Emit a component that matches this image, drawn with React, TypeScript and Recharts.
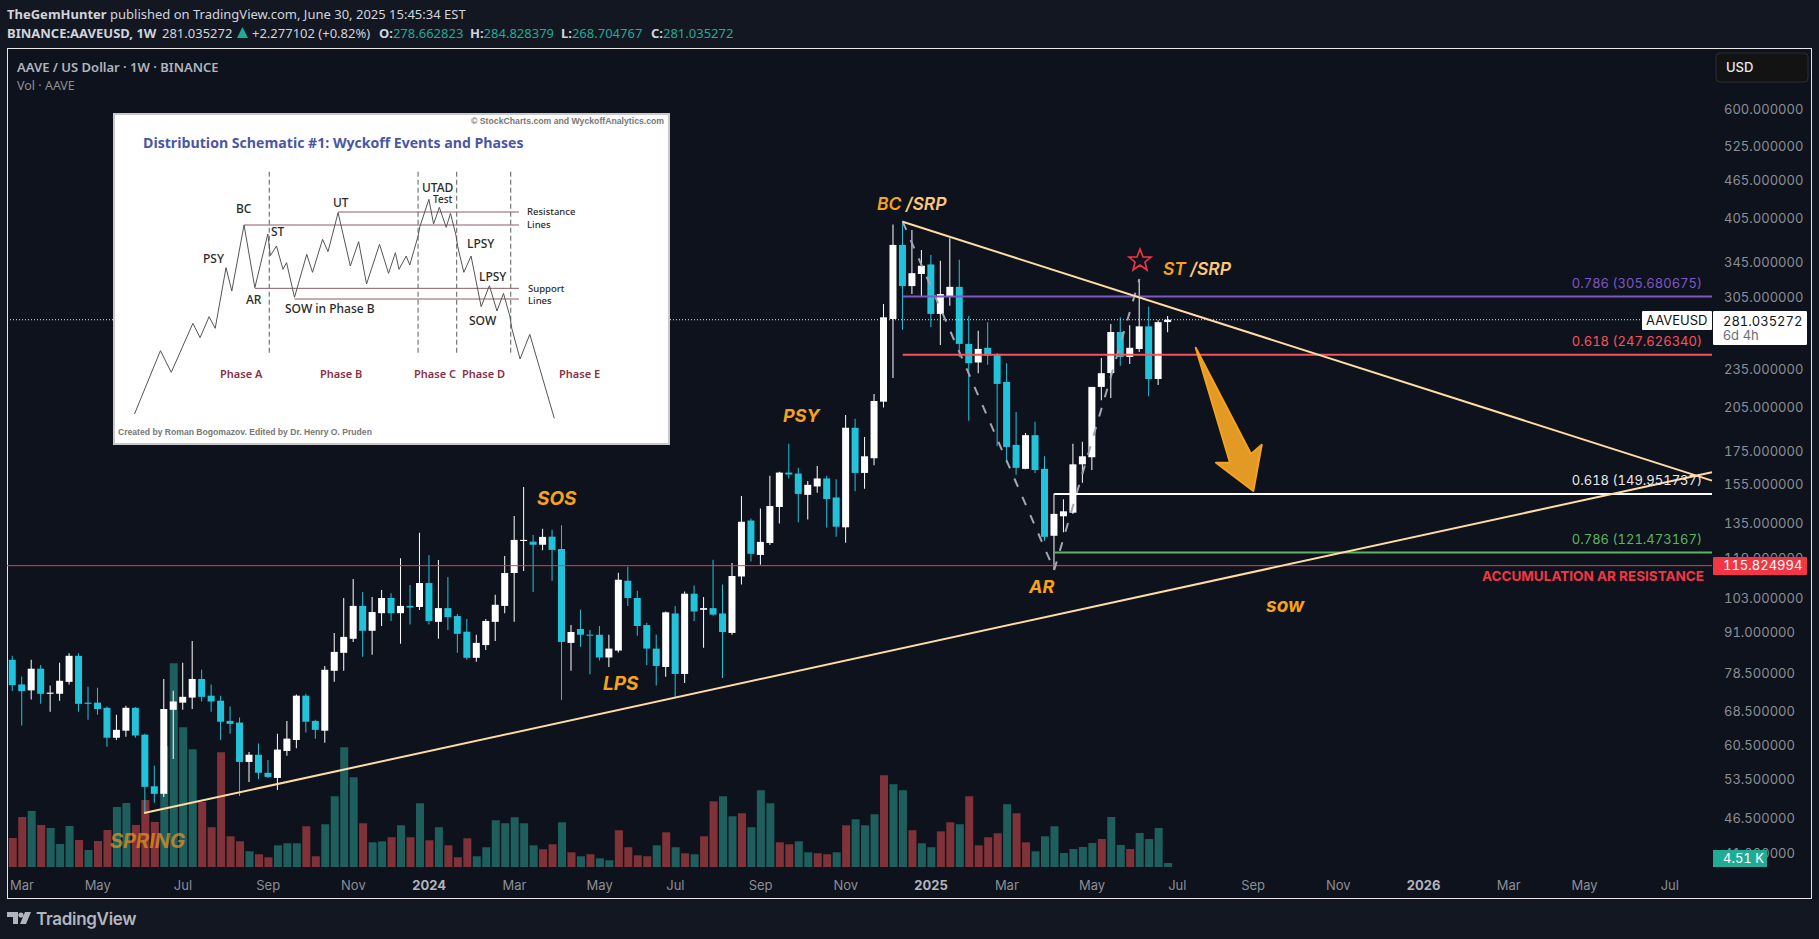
import { Bar, Cell, ComposedChart, Line, LineChart, ReferenceLine, XAxis, YAxis } from 'recharts'

// weekly AAVE candles
const opens = [
  82.5, 75.5, 73.9, 79.9, 73, 73, 76.2, 83.7, 70.7, 70.7,
  69.4, 62.3, 63.9, 69.4, 63, 52.3, 50.9, 68.9, 70.7, 72,
  77, 72.5, 71.2, 66.2, 65.8, 57.1, 58.6, 54.9, 53.9, 59.4,
  61.8, 72.5, 66.2, 63.9, 79.3, 84.6, 89, 100.2, 91.6, 97.6,
  103.1, 97.6, 100.2, 99.8, 108.8, 94.6, 99.4, 96.6, 91.3, 83.1,
  87, 94.6, 100.2, 112.8, 126.6, 126.3, 124.9, 128.6, 123, 87.7,
  92.2, 90.3, 90.3, 83.2, 85.3, 109.7, 103.1, 93.5, 85.9, 80.4,
  97.5, 78.4, 104.7, 98.8, 99.4, 97.5, 90.9, 111.4, 136.3, 120.4,
  125.7, 143.1, 162, 161.4, 149.5, 154.1, 158.6, 148.1, 133, 190.4,
  161.8, 170.6, 209.2, 281.8, 368, 317.3, 331.4, 343, 287, 305.3,
  316.4, 257.6, 240.9, 254, 248.3, 224.6, 179, 164.2, 185.4, 164.2,
  129, 138.4, 140.2, 166.9, 171.2, 220.6, 231.9, 268.9, 245.8, 252.9,
  274.4, 227, 278.66,
]
const closes = [
  75.3, 73.7, 79.9, 73, 73.3, 76.5, 83.7, 70.4, 70.4, 69.1,
  62.3, 64.1, 69.4, 62.8, 52.2, 50.9, 69.1, 71, 72.2, 77,
  72.2, 71, 66, 65.5, 57.1, 58.6, 54.9, 54.1, 59.7, 62.1,
  72.5, 66, 64.1, 79.6, 84.9, 89.6, 100.2, 91.6, 98, 103.1,
  97.6, 100.2, 99.6, 108.8, 94.9, 99.4, 96.2, 90.6, 83.1, 87.7,
  94.9, 100.6, 112.8, 127.1, 127.1, 124.9, 128.5, 122.6, 88, 91.2,
  90.3, 90, 83.2, 85.9, 110.1, 103.1, 93.2, 85.9, 80.7, 97.9,
  78.4, 104.7, 98.2, 99.4, 97.1, 91.2, 111.6, 135.7, 120.9, 126.2,
  143.6, 162, 160.9, 150, 155, 158.6, 147.3, 133.3, 190.4, 161.8,
  171.8, 209.7, 283.5, 368, 317.3, 332.4, 341.4, 287, 308.3, 316.4,
  257.6, 240.3, 253, 246.9, 223, 177.7, 164.8, 185.4, 163.5, 128.5,
  139.6, 140.9, 166.9, 171.8, 220.6, 231.8, 268.9, 245.8, 254, 274.4,
  227, 278.6, 281.04,
]
const highs = [
  83.7, 77.7, 82.5, 81, 75.2, 81.6, 84.5, 84.5, 74.9, 74.6,
  69.7, 67.7, 69.9, 69.6, 63.2, 56.3, 77, 73.8, 81.6, 88.3,
  79.6, 75.5, 72.5, 69.7, 67, 59.2, 61, 57.5, 63.2, 66.2,
  72.8, 73, 66.5, 80.7, 90.9, 103.1, 110.4, 105.3, 103.5, 106.1,
  104.9, 119, 108, 130.4, 120.3, 118.2, 111.2, 97.3, 95.6, 90.3,
  95.6, 104.3, 119.9, 138.5, 153.8, 129.4, 132.3, 131.8, 134, 93.5,
  98.8, 91.9, 93.2, 90.3, 112.9, 115.4, 105.8, 94.3, 90.3, 98.2,
  100.2, 105.5, 107.8, 103.5, 118.3, 108.2, 117, 148.9, 137.3, 142.3,
  160.2, 162.5, 179.8, 164.8, 157.2, 165.9, 160.2, 158.2, 199.4, 196.6,
  184.2, 215.1, 297.3, 396, 401.5, 388.2, 361.4, 355, 347.6, 377,
  349, 284.9, 270, 278.6, 249.2, 240.3, 201.6, 186.8, 194.6, 171.8,
  150.3, 147.1, 179.7, 181, 220.6, 244.9, 276.7, 283.5, 275.4, 325.5,
  294.6, 280.6, 284.83,
]
const lows = [
  73.7, 65.1, 71.5, 70.4, 68.4, 71.2, 75.5, 68.4, 66.5, 67.7,
  60.3, 61.8, 62.5, 62.3, 47.4, 49.3, 50.3, 57.7, 68.9, 69.1,
  71, 68.4, 61.8, 63.2, 50.5, 53.1, 53.7, 53.9, 51.6, 58.4,
  60, 63.5, 62.1, 61.2, 76.2, 79.3, 88, 83.4, 84, 93.2,
  94.9, 87.4, 93.7, 98.7, 93.7, 89, 91.9, 84.6, 82.5, 81.9,
  85.5, 88.3, 97.6, 94.6, 113.6, 105.3, 122.5, 109.7, 71.4, 79.3,
  86.5, 78.3, 82.3, 80.4, 84.7, 100.2, 90, 81, 75.2, 77.6,
  72.1, 75.9, 94.9, 86.2, 96.7, 77.3, 90.3, 108.2, 117.6, 116.2,
  124.8, 134.8, 158.6, 135.5, 136.8, 150.6, 132.9, 128.6, 125.8, 151.5,
  152.9, 166.3, 204.8, 227.8, 271, 308.3, 305.3, 273.8, 256.6, 295.6,
  245.8, 195.2, 231.8, 239, 178.2, 167.7, 160.7, 164, 161.8, 126.7,
  114, 130.6, 139.6, 156.2, 163.5, 210.3, 212, 238, 239.7, 250.2,
  213.3, 222.2, 268.7,
]
// volume in thousands
const volumes = [
  32.8, 56.5, 63.3, 47.5, 44.1, 26, 46.3, 30.5, 19.2, 29.4,
  41.8, 67.8, 72.3, 47.5, 75.7, 50.9, 136.4, 230.2, 157.9, 133,
  73.5, 44.9, 129.6, 34.7, 29, 17.7, 14.4, 11, 24.5, 26.8,
  26.8, 46, 12.1, 48.3, 79.9, 135.3, 101.4, 49.4, 27.9, 29,
  33.6, 47.1, 33.6, 72, 30.2, 44.9, 24.5, 11, 32.4, 12.1,
  22.3, 52.8, 49.4, 56.2, 49.4, 24.5, 20, 25.7, 50.5, 16.6,
  12.1, 14.4, 9.8, 7.6, 41.5, 22.3, 13.2, 12.1, 24.5, 39.2,
  22.3, 15.5, 14.4, 34.7, 74.2, 79.9, 57.3, 60.7, 44.9, 86.7,
  72, 27.9, 25.7, 29, 16.6, 15.5, 14.4, 16.6, 47.1, 53.9,
  47.1, 59.6, 103.6, 93.5, 86.7, 41.5, 26.8, 22.3, 40.3, 50.5,
  48.3, 79.9, 24.5, 33.6, 38.1, 70.9, 60.7, 27.9, 17.7, 34.7,
  46, 15.8, 20.3, 22.6, 27.1, 31.6, 56.5, 24.9, 20.3, 38.4,
  31.6, 44.1, 4.51,
]
// r = red volume bar, t = teal volume bar
const volumeSides =
  'rrtrtttrtrrttrrrttttrrrrrtrrtttrrttttrttrtrtrtrrrtttttt' +
  'trrtrtrttrrrrtrtrtrrttrtttrrttrrtrtttrttrttrrtrrrrtrrttttttt' +
  'rttrtt'

const xTickIdx = [1, 9, 18, 27, 36, 44, 53, 62, 70, 79, 88, 97, 105, 114, 123, 131, 140, 149, 158, 166, 175]
const xTickLabels = [
  'Mar', 'May', 'Jul', 'Sep', 'Nov', '2024', 'Mar', 'May', 'Jul', 'Sep', 'Nov',
  '2025', 'Mar', 'May', 'Jul', 'Sep', 'Nov', '2026', 'Mar', 'May', 'Jul',
]
const priceTicks = [600, 525, 465, 405, 345, 305, 235, 205, 175, 155, 135, 119, 103, 91, 78.5, 68.5, 60.5, 53.5, 46.5, 41]

const lastClose = 281.035272
const arResistance = 115.824994
const fibLevels = [
  { start: 94, price: 305.680675, color: '#7E57C2' },
  { start: 94, price: 247.62634, color: '#F7525F' },
  { start: 110, price: 149.951737, color: '#FFFFFF' },
  { start: 110, price: 121.473167, color: '#5BB55F' },
]

const X_MIN = -0.58
const X_MAX = 179.46

const rows = opens.map((o, i) => ({
  i,
  wick: [lows[i], highs[i]],
  body: [Math.min(o, closes[i]), Math.max(o, closes[i])],
  vol: volumes[i],
}))

const candleColor = (i: number) => (closes[i] >= opens[i] ? '#FFFFFF' : '#22C3DA')

// small schematic pasted in the top left
const schemX = [
  68, 140, 170, 230, 250, 275, 292, 322, 338, 372, 402, 438, 445, 462, 480, 490, 512, 546, 562, 590, 605,
  633, 667, 690, 712, 748, 773, 792, 802, 822, 832, 855, 860, 885, 898, 914, 933, 945, 960, 965, 982, 1002,
  1030, 1053, 1074, 1092, 1110, 1115, 1138, 1165, 1233,
]
const schemY = [
  912, 722, 787, 640, 683, 620, 655, 473, 543, 345, 533, 372, 437, 408, 478, 458, 562, 433, 487, 388, 425,
  308, 468, 395, 522, 403, 490, 428, 478, 438, 465, 378, 350, 268, 342, 292, 352, 310, 375, 410, 487, 438,
  590, 527, 603, 550, 620, 655, 747, 673, 925,
]
const schemRows = schemX.map((x, i) => ({ x, y: schemY[i] }))
const schemLevels = [
  { from: 372, y: 345 },
  { from: 633, y: 306 },
  { from: 402, y: 535 },
  { from: 512, y: 567 },
]
const schemPhases = [442, 855, 962, 1112]

const schemText: [string, number, number, number?][] = [
  ['BC', 236, 213], ['PSY', 203, 263], ['AR', 246, 304], ['ST', 271, 236], ['UT', 333, 207],
  ['UTAD', 422, 192], ['Test', 433, 203, 10], ['SOW in Phase B', 285, 313], ['LPSY', 467, 248],
  ['LPSY', 479, 281], ['SOW', 469, 325], ['Resistance', 527, 215, 9.5], ['Lines', 527, 228, 9.5],
  ['Support', 528, 292, 9.5], ['Lines', 528, 304, 9.5],
]
const schemPhaseText: [string, number][] = [
  ['Phase A', 220], ['Phase B', 320], ['Phase C', 414], ['Phase D', 462], ['Phase E', 559],
]

const AXIS_FONT = 'Inter, sans-serif'
const HEAD_FONT = '"Noto Sans", sans-serif'
const TABULAR = { fontFeatureSettings: '"tnum"' }

function PriceTick({ x, y, payload }: any) {
  return (
    <text x={x + 10} y={y + 4.5} fontFamily={AXIS_FONT} fontSize={13} fill="#8B8E97" style={TABULAR}>
      {Number(payload.value).toFixed(6)}
    </text>
  )
}

function TimeTick({ x, y, payload }: any) {
  const label = xTickLabels[xTickIdx.indexOf(payload.value)]
  const isYear = label.startsWith('20')
  return (
    <text
      x={x}
      y={y - 9}
      textAnchor="middle"
      fontFamily={AXIS_FONT}
      fontSize={13}
      fontWeight={isYear ? 700 : 400}
      fill={isYear ? '#B2B5BE' : '#8B8E97'}
    >
      {label}
    </text>
  )
}

function Schematic() {
  return (
    <div style={{ position: 'absolute', left: 113, top: 113, width: 553, height: 328, background: '#fff', border: '2px solid #c9c9c9' }}>
      <div style={{ position: 'absolute', left: -5, top: -5 }}>
        <LineChart width={565} height={340} data={schemRows} margin={{ top: 0, right: 0, bottom: 0, left: 0 }}>
          <XAxis dataKey="x" type="number" domain={[0, 1568]} hide />
          <YAxis type="number" domain={[0, 1020]} reversed hide />
          {schemLevels.map((l) => (
            <ReferenceLine
              key={l.y}
              segment={[{ x: l.from, y: l.y }, { x: 1135, y: l.y }]}
              stroke="#8C5A64"
              strokeWidth={1}
            />
          ))}
          {schemPhases.map((x) => (
            <ReferenceLine
              key={x}
              segment={[{ x, y: 185 }, { x, y: 735 }]}
              stroke="#777"
              strokeWidth={1.2}
              strokeDasharray="5 3"
            />
          ))}
          <Line dataKey="y" stroke="#555" strokeWidth={1} dot={false} isAnimationActive={false} />
        </LineChart>
      </div>
    </div>
  )
}

export default function App() {
  return (
    <div style={{ position: 'fixed', left: 0, top: 0, width: 1819, height: 939, background: '#131722', overflow: 'hidden' }}>
      {/* pane background and frame */}
      <div style={{ position: 'absolute', left: 7, top: 48, width: 1803, height: 849, background: '#0E121C', border: '1px solid #E8E8E8' }} />

      <div style={{ position: 'absolute', left: 0, top: 0 }}>
        <ComposedChart width={1819} height={939} data={rows} margin={{ top: 48, right: 0, bottom: 41, left: 7 }}>
          <XAxis
            xAxisId="main"
            dataKey="i"
            type="number"
            domain={[X_MIN, X_MAX]}
            allowDataOverflow
            ticks={xTickIdx}
            interval={0}
            tick={TimeTick}
            tickSize={0}
            tickLine={false}
            axisLine={false}
            height={31}
          />
          <XAxis xAxisId="wick" dataKey="i" type="number" domain={[X_MIN, X_MAX]} allowDataOverflow hide />
          <XAxis xAxisId="body" dataKey="i" type="number" domain={[X_MIN, X_MAX]} allowDataOverflow hide />
          <YAxis
            yAxisId="price"
            orientation="right"
            type="number"
            scale="log"
            domain={[39.1, 748.3]}
            allowDataOverflow
            ticks={priceTicks}
            interval={0}
            tick={PriceTick}
            tickSize={0}
            tickLine={false}
            axisLine={false}
            width={107}
          />
          <YAxis yAxisId="vol" type="number" domain={[0, 925]} hide />

          <Bar xAxisId="main" yAxisId="vol" dataKey="vol" barSize={8} isAnimationActive={false}>
            {rows.map((r) => (
              <Cell key={r.i} fill={volumeSides[r.i] === 'r' ? '#7F3338' : '#1E5F5E'} />
            ))}
          </Bar>

          {/* thin levels */}
          <ReferenceLine xAxisId="main" yAxisId="price" y={arResistance} stroke="#E04048" strokeWidth={1} />
          <ReferenceLine xAxisId="main" yAxisId="price" y={lastClose} stroke="#E8E8E8" strokeWidth={1} strokeDasharray="1 2" />

          {/* swing path behind the candles */}
          <ReferenceLine
            xAxisId="main"
            yAxisId="price"
            segment={[{ x: 94, y: 400.1 }, { x: 110, y: 114 }]}
            stroke="#A3A6B0"
            strokeWidth={2}
            strokeDasharray="9 11"
          />
          <ReferenceLine
            xAxisId="main"
            yAxisId="price"
            segment={[{ x: 110, y: 114 }, { x: 119, y: 325.5 }]}
            stroke="#A3A6B0"
            strokeWidth={2}
            strokeDasharray="9 11"
          />

          {fibLevels.map((f) => (
            <ReferenceLine
              key={f.price}
              xAxisId="main"
              yAxisId="price"
              segment={[{ x: f.start, y: f.price }, { x: X_MAX, y: f.price }]}
              stroke={f.color}
              strokeWidth={2}
            />
          ))}

          <Bar xAxisId="wick" yAxisId="price" dataKey="wick" barSize={1} isAnimationActive={false}>
            {rows.map((r) => (
              <Cell key={r.i} fill={candleColor(r.i)} />
            ))}
          </Bar>
          <Bar xAxisId="body" yAxisId="price" dataKey="body" barSize={7} minPointSize={1} isAnimationActive={false}>
            {rows.map((r) => (
              <Cell key={r.i} fill={candleColor(r.i)} />
            ))}
          </Bar>

          {/* trend lines */}
          <ReferenceLine
            xAxisId="main"
            yAxisId="price"
            segment={[{ x: 94, y: 400.1 }, { x: X_MAX, y: 157.4 }]}
            stroke="#FFDCA3"
            strokeWidth={2}
          />
          <ReferenceLine
            xAxisId="main"
            yAxisId="price"
            segment={[{ x: 13.9, y: 47.5 }, { x: X_MAX, y: 162.2 }]}
            stroke="#FFDCA3"
            strokeWidth={2}
          />
        </ComposedChart>
      </div>

      <Schematic />

      <svg width={1819} height={939} style={{ position: 'absolute', left: 0, top: 0 }}>
        {/* header */}
        <g fontFamily={HEAD_FONT} fontSize={13} fill="#D1D4DC">
          <text x={7} y={19}><tspan fontWeight={700}>TheGemHunter</tspan> published on TradingView.com, June 30, 2025 15:45:34 EST</text>
          <text x={7} y={38} fontWeight={700}>BINANCE:AAVEUSD, 1W</text>
          <text x={162} y={38}>281.035272</text>
          <polygon points="237,38 248,38 242.5,27" fill="#22AB94" />
          <text x={252} y={38}>+2.277102 (+0.82%)</text>
          <text x={379} y={38} fontWeight={700}>O:<tspan fill="#22AB94" fontWeight={400}>278.662823</tspan></text>
          <text x={470} y={38} fontWeight={700}>H:<tspan fill="#22AB94" fontWeight={400}>284.828379</tspan></text>
          <text x={561} y={38} fontWeight={700}>L:<tspan fill="#22AB94" fontWeight={400}>268.704767</tspan></text>
          <text x={651} y={38} fontWeight={700}>C:<tspan fill="#22AB94" fontWeight={400}>281.035272</tspan></text>
        </g>
        <text x={17} y={72} fontFamily={HEAD_FONT} fontSize={13} fontWeight={600} fill="#B2B5BE">AAVE / US Dollar · 1W · BINANCE</text>
        <text x={17} y={90} fontFamily={HEAD_FONT} fontSize={12.5} fill="#8B8E97">Vol · AAVE</text>

        {/* schematic text */}
        <text x={471} y={124} fontFamily="Liberation Sans" fontSize={8.7} fontWeight={700} fill="#777">© StockCharts.com and WyckoffAnalytics.com</text>
        <text x={143} y={148} fontFamily="Open Sans" fontSize={14.1} fontWeight={700} fill="#4A55A8">Distribution Schematic #1: Wyckoff Events and Phases</text>
        <text x={118} y={435} fontFamily="Liberation Sans" fontSize={8.6} fontWeight={700} fill="#777">Created by Roman Bogomazov. Edited by Dr. Henry O. Pruden</text>
        <g fontFamily="Noto Sans" fontWeight={500} fill="#2A2A2A">
          {schemText.map(([t, x, y, size], i) => (
            <text key={i} x={x} y={y} fontSize={size ?? 12}>{t}</text>
          ))}
        </g>
        <g fontFamily="Noto Sans" fontSize={11} fontWeight={600} fill="#8B2F45">
          {schemPhaseText.map(([t, x]) => (
            <text key={t} x={x} y={378}>{t}</text>
          ))}
        </g>

        {/* chart annotations */}
        <g fontFamily="Inter" fontStyle="italic" fontWeight={700} fontSize={19} fill="#F7A21B">
          <text x={877} y={210} fontSize={17.5} fontWeight={600}>BC <tspan fill="#FBC779">/SRP</tspan></text>
          <text x={1163} y={275} fontSize={17.5} fontWeight={600}>ST <tspan fill="#FBC779">/SRP</tspan></text>
          <text x={537} y={505}>SOS</text>
          <text x={783} y={422} fontSize={18}>PSY</text>
          <text x={603} y={690}>LPS</text>
          <text x={1029} y={593} fontSize={18}>AR</text>
          <text x={1266} y={612}>sow</text>
          <text x={110} y={848} fontSize={20} opacity={0.62} fill="#FF9F1C">SPRING</text>
        </g>
        <polygon
          points="1195.7,347.7 1251,454 1261.7,444.7 1253.3,491 1216,462.7 1230,462.7"
          fill="#E29A24"
          stroke="#F4A21F"
          strokeWidth={2}
          strokeLinejoin="round"
        />
        <polygon
          points="1140,249 1143,257 1151,257 1145,262 1147,270 1140,265 1133,270 1135,262 1129,257 1137,257"
          fill="none"
          stroke="#F23645"
          strokeWidth={1.6}
        />

        {/* level labels */}
        <g fontFamily={AXIS_FONT} fontSize={13} textAnchor="end" style={TABULAR}>
          <text x={1702} y={288} fill="#7E57C2">0.786 (305.680675)</text>
          <text x={1702} y={346} fill="#F7525F">0.618 (247.626340)</text>
          <text x={1702} y={485} fill="#E8E8E8">0.618 (149.951737)</text>
          <text x={1702} y={544} fill="#5BB55F">0.786 (121.473167)</text>
        </g>
        <text x={1704} y={581} textAnchor="end" fontFamily={AXIS_FONT} fontSize={13.5} fontWeight={700} fill="#F23645">ACCUMULATION AR RESISTANCE</text>

        {/* axis boxes */}
        <rect x={1642} y={311} width={70} height={19} rx={1} fill="#fff" />
        <text x={1646} y={325} fontFamily={AXIS_FONT} fontSize={13} fill="#111">AAVEUSD</text>
        <rect x={1713} y={311} width={94} height={34} rx={1} fill="#fff" />
        <text x={1723} y={326} fontFamily={AXIS_FONT} fontSize={13} fill="#131722" style={TABULAR}>281.035272</text>
        <text x={1723} y={340} fontFamily={AXIS_FONT} fontSize={13} fill="#6A6D78">6d 4h</text>
        <rect x={1713} y={557} width={94} height={18} rx={1} fill="#F23645" />
        <text x={1723} y={570} fontFamily={AXIS_FONT} fontSize={13} fill="#fff" style={TABULAR}>115.824994</text>
        <rect x={1713} y={850} width={54} height={17} fill="#22AB94" />
        <text x={1723} y={863} fontFamily={AXIS_FONT} fontSize={13} fill="#fff" style={TABULAR}>4.51 K</text>
        <rect x={1716} y={53} width={92} height={29} rx={4} fill="#131313" stroke="#2C2F36" />
        <text x={1726} y={72} fontFamily={AXIS_FONT} fontSize={13} fontWeight={500} fill="#E8E8E8">USD</text>

        {/* footer logo */}
        <path d="M7 912h11v12h-5v-7h-6z M25 912h6l-5 12h-6z" fill="#B2B5BE" />
        <circle cx={21} cy={915} r={2.6} fill="#B2B5BE" />
        <text x={36} y={925} fontFamily="Inter" fontSize={17} fontWeight={600} fill="#B2B5BE" letterSpacing={-0.3}>TradingView</text>
      </svg>
    </div>
  )
}
